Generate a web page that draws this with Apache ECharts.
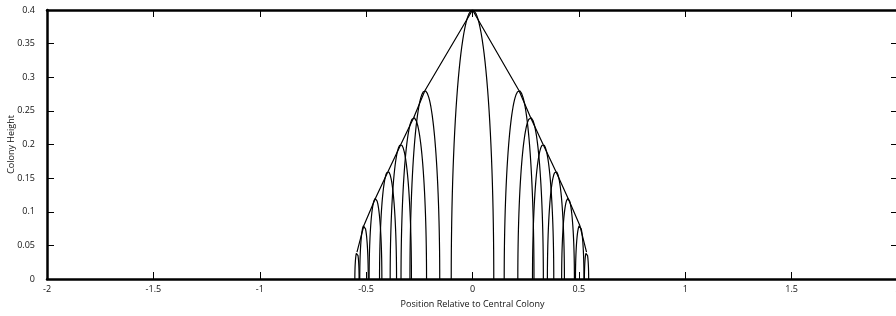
<!DOCTYPE html>
<html><head><meta charset="utf-8">
<script src="https://cdn.jsdelivr.net/npm/echarts@6/dist/echarts.min.js"></script>
<style>html,body{margin:0;padding:0;background:#fff}#c{width:896px;height:316px}</style>
</head><body><div id="c"></div>
<script>
// Axis ranges / tick labels
const xTicks = [-2, -1.5, -1, -0.5, 0, 0.5, 1, 1.5, 2];
const yTicks = [0, 0.05, 0.1, 0.15, 0.2, 0.25, 0.3, 0.35, 0.4];
// Colonies: position of peak, peak height, half-width of the dome
const colonyX = [-0.543, -0.51, -0.456, -0.397, -0.337, -0.276, -0.224, 0, 0.219, 0.273, 0.332, 0.392, 0.449, 0.504, 0.536];
const colonyH = [0.04, 0.08, 0.12, 0.16, 0.2, 0.24, 0.28, 0.4, 0.28, 0.24, 0.2, 0.16, 0.12, 0.08, 0.04];
const colonyW = [0.01, 0.02, 0.03, 0.04, 0.05, 0.06, 0.07, 0.1, 0.07, 0.06, 0.05, 0.04, 0.03, 0.02, 0.01];

const FONT = 'Open Sans';
const lineStyle = {color: '#000', width: 1.2};

// dome outline of each colony (elliptic profile)
function dome(xc, h, w) {
  const pts = [];
  const n = 60;
  for (let i = 0; i <= n; i++) {
    const t = Math.PI * i / n;
    pts.push([xc - w * Math.cos(t), h * Math.sin(t)]);
  }
  return pts;
}

const series = [];
colonyX.forEach((x, i) => {
  series.push({type: 'line', data: dome(x, colonyH[i], colonyW[i]), showSymbol: false,
    lineStyle: lineStyle, animation: false, silent: true});
});
// envelope joining the peaks
series.push({type: 'line', data: colonyX.map((x, i) => [x, colonyH[i]]), showSymbol: false,
  lineStyle: lineStyle, animation: false, silent: true});

const axisLineStyle = {onZero: false, lineStyle: {color: '#000', width: 2.5}};
const tick = {inside: true, length: 7, lineStyle: {color: '#000', width: 1}};
const lbl = {fontFamily: FONT, fontSize: 9, color: '#111'};

const option = {
  backgroundColor: '#fff',
  animation: false,
  grid: {left: 47, top: 10, width: 851, height: 269, containLabel: false, outerBoundsMode: 'none'},
  xAxis: [
    {type: 'value', min: xTicks[0], max: xTicks[xTicks.length - 1], interval: 0.5, position: 'bottom',
     axisLine: axisLineStyle, axisTick: tick, splitLine: {show: false},
     axisLabel: Object.assign({margin: 6, formatter: v => String(+v.toFixed(2))}, lbl),
     name: 'Position Relative to Central Colony', nameLocation: 'middle', nameGap: 21, nameMoveOverlap: false,
     nameTextStyle: {fontFamily: FONT, fontSize: 9, color: '#111'}},
    {type: 'value', min: xTicks[0], max: xTicks[xTicks.length - 1], interval: 0.5, position: 'top',
     axisLine: axisLineStyle, axisTick: tick, splitLine: {show: false}, axisLabel: {show: false}}
  ],
  yAxis: [
    {type: 'value', min: yTicks[0], max: yTicks[yTicks.length - 1], interval: 0.05, position: 'left',
     axisLine: axisLineStyle, axisTick: tick, splitLine: {show: false},
     axisLabel: Object.assign({margin: 12, formatter: v => String(+v.toFixed(2))}, lbl),
     name: 'Colony Height', nameLocation: 'middle', nameGap: 31, nameRotate: 90, nameMoveOverlap: false,
     nameTextStyle: {fontFamily: FONT, fontSize: 9, color: '#111'}},
    {type: 'value', min: yTicks[0], max: yTicks[yTicks.length - 1], interval: 0.05, position: 'right',
     axisLine: axisLineStyle, axisTick: tick, splitLine: {show: false}, axisLabel: {show: false}}
  ],
  series: series
};
const chart = echarts.init(document.getElementById('c'), null, {renderer: 'canvas'});
chart.setOption(option);
</script></body></html>
